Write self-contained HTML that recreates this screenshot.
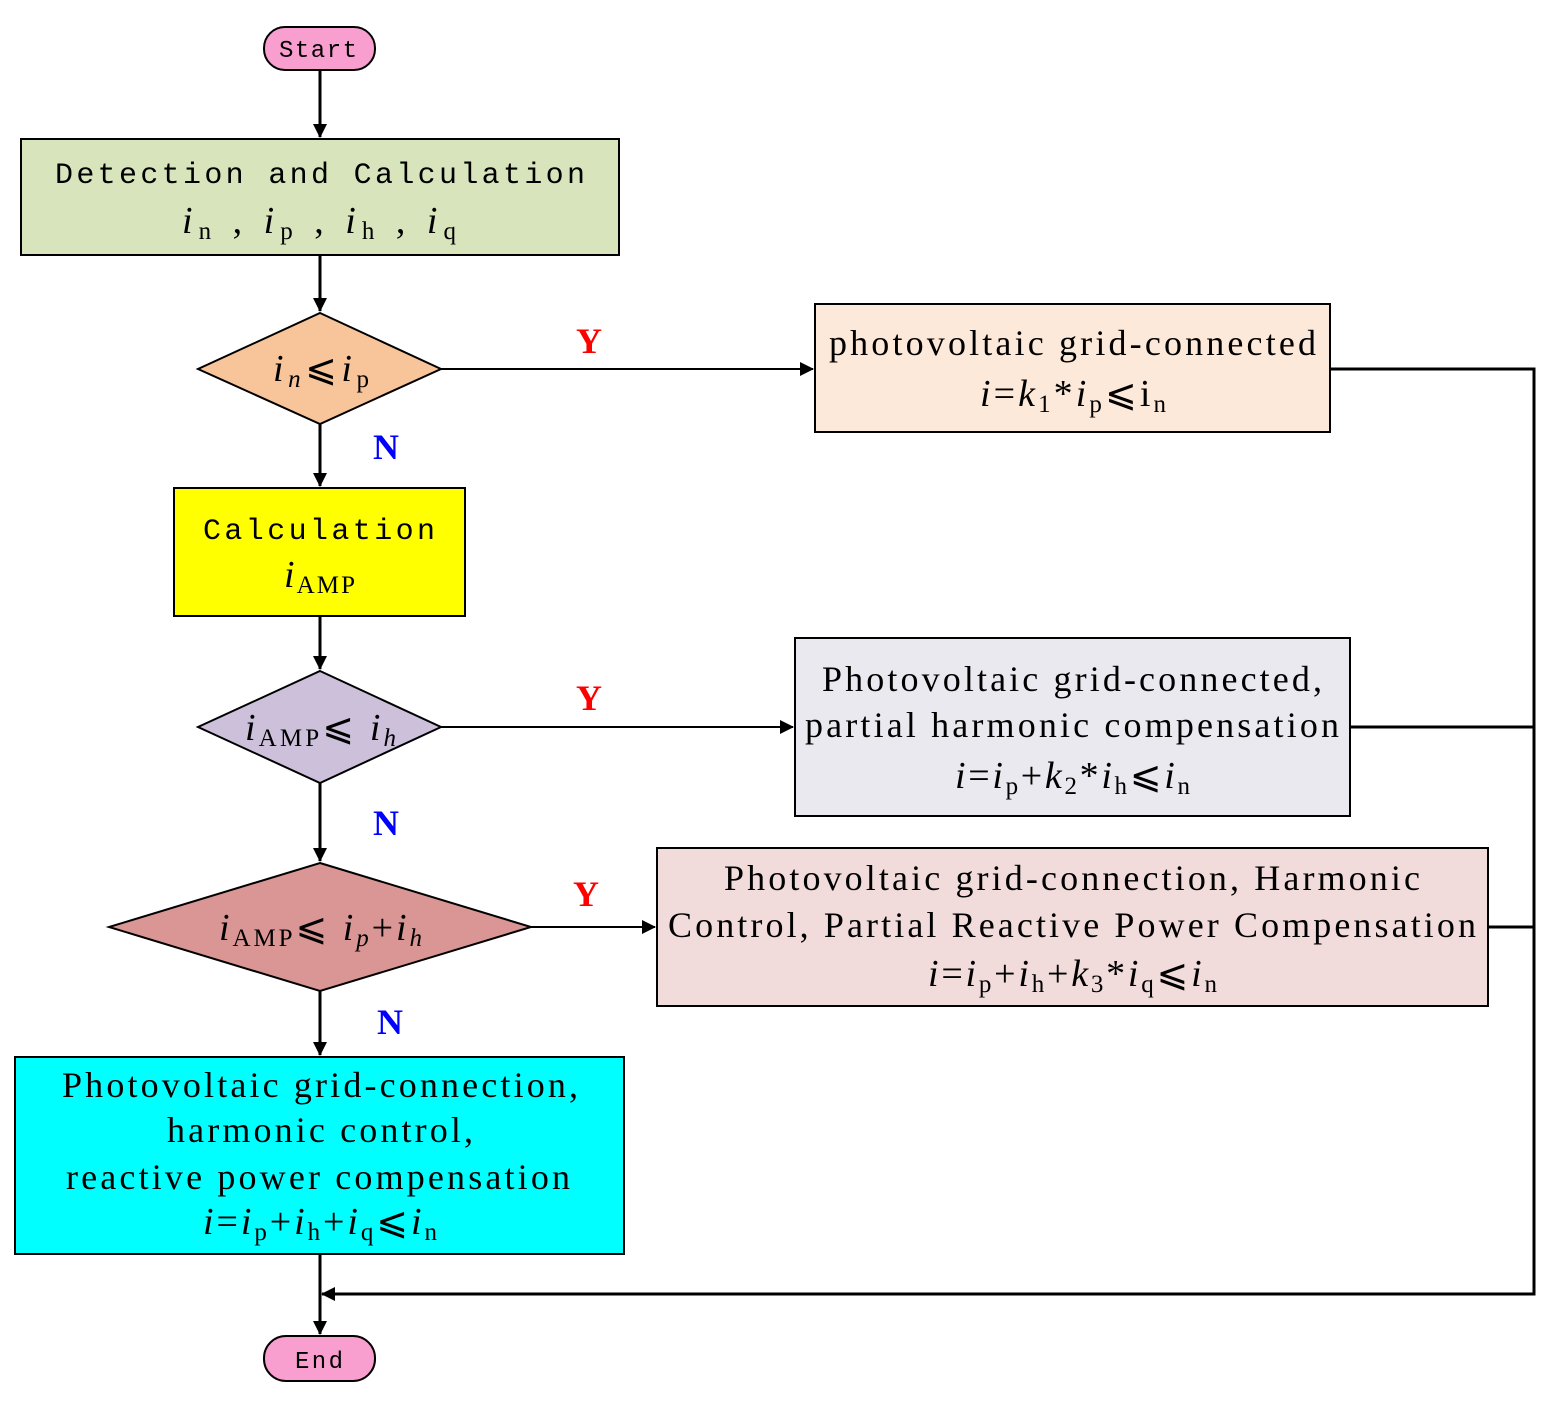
<!DOCTYPE html>
<html><head><meta charset="utf-8"><style>
html,body{margin:0;padding:0;background:#fff;}
svg{display:block;}
.s{font-family:"Liberation Serif",serif;font-size:36px;fill:#000;}
.f{font-family:"Liberation Serif",serif;font-size:38px;fill:#000;}
.m{font-family:"Liberation Mono",monospace;font-size:30px;fill:#000;}
.i{font-style:italic;}
.sub{font-size:25px;}
.yl{font-family:"Liberation Serif",serif;font-weight:bold;font-size:36px;fill:#f00;}
.nl{font-family:"Liberation Serif",serif;font-weight:bold;font-size:36px;fill:#00f;}
</style></head><body>
<svg width="1558" height="1406" viewBox="0 0 1558 1406" xmlns="http://www.w3.org/2000/svg">
<defs>
<marker id="b" markerWidth="14" markerHeight="20" refX="13" refY="7" orient="auto" markerUnits="userSpaceOnUse"><path d="M0,0 L14,7 L0,14 Z" fill="#000"/></marker></defs>
<g stroke="#000" stroke-width="2">
<rect x="264" y="27" width="111" height="43" rx="21" fill="#f99fcf"/>
<rect x="21" y="139" width="598" height="116" fill="#d8e4bc"/>
<polygon points="320,313 441,369 320,424 198,369" fill="#f8c59b"/>
<rect x="815" y="304" width="515" height="128" fill="#fde9d9"/>
<rect x="174" y="488" width="291" height="128" fill="#ffff00"/>
<polygon points="320,671 441,727 320,783 198,727" fill="#ccc0da"/>
<rect x="795" y="638" width="555" height="178" fill="#ebe9f0"/>
<polygon points="320,863 531,927 320,991 109,927" fill="#d99694"/>
<rect x="657" y="848" width="831" height="158" fill="#f2dcdb"/>
<rect x="15" y="1057" width="609" height="197" fill="#00ffff"/>
<rect x="264" y="1336" width="111" height="45" rx="22" fill="#f99fcf"/>
</g>
<g stroke="#000" stroke-width="3" fill="none">
<line x1="320" y1="70" x2="320" y2="137" marker-end="url(#b)"/>
<line x1="320" y1="255" x2="320" y2="311" marker-end="url(#b)"/>
<line x1="320" y1="424" x2="320" y2="486" marker-end="url(#b)"/>
<line x1="320" y1="616" x2="320" y2="669" marker-end="url(#b)"/>
<line x1="320" y1="783" x2="320" y2="861" marker-end="url(#b)"/>
<line x1="320" y1="991" x2="320" y2="1055" marker-end="url(#b)"/>
<line x1="320" y1="1254" x2="320" y2="1334" marker-end="url(#b)"/>
<polyline points="1330,369 1534,369 1534,1294 322,1294" marker-end="url(#b)"/>
<line x1="1350" y1="727" x2="1534" y2="727"/>
<line x1="1488" y1="927" x2="1534" y2="927"/>
</g>
<g stroke="#000" stroke-width="2">
<line x1="441" y1="369" x2="813" y2="369" marker-end="url(#b)"/>
<line x1="441" y1="727" x2="793" y2="727" marker-end="url(#b)"/>
<line x1="531" y1="927" x2="655" y2="927" marker-end="url(#b)"/>
</g>
<text class="m" x="279" y="57" textLength="78" lengthAdjust="spacing" style="font-size:24px">Start</text>
<text class="m" x="295" y="1368" textLength="48" lengthAdjust="spacing" style="font-size:24px">End</text>
<text class="m" x="55" y="183" textLength="530" lengthAdjust="spacing">Detection and Calculation</text>
<text class="f" x="182" y="233" textLength="274" lengthAdjust="spacing"><tspan class="i">i</tspan><tspan class="sub" baseline-shift="-6">n</tspan> , <tspan class="i">i</tspan><tspan class="sub" baseline-shift="-6">p</tspan> , <tspan class="i">i</tspan><tspan class="sub" baseline-shift="-6">h</tspan> , <tspan class="i">i</tspan><tspan class="sub" baseline-shift="-6">q</tspan></text>
<text class="f" x="273" y="381" textLength="96" lengthAdjust="spacing"><tspan class="i">i</tspan><tspan class="sub i" baseline-shift="-6">n</tspan>⩽<tspan class="i">i</tspan><tspan class="sub" baseline-shift="-6">p</tspan></text>
<text class="yl" x="576" y="353">Y</text>
<text class="nl" x="373" y="459">N</text>
<text class="s" x="829" y="355" textLength="487" lengthAdjust="spacing">photovoltaic grid-connected</text>
<text class="f" x="980" y="406" textLength="186" lengthAdjust="spacing"><tspan class="i">i</tspan>=<tspan class="i">k</tspan><tspan class="sub" baseline-shift="-6">1</tspan>*<tspan class="i">i</tspan><tspan class="sub" baseline-shift="-6">p</tspan>⩽i<tspan class="sub" baseline-shift="-6">n</tspan></text>
<text class="m" x="203" y="539" textLength="232" lengthAdjust="spacing">Calculation</text>
<text class="f" x="284" y="587" textLength="71" lengthAdjust="spacing"><tspan class="i">i</tspan><tspan class="sub" baseline-shift="-6">AMP</tspan></text>
<text class="f" x="245" y="740" textLength="151" lengthAdjust="spacing"><tspan class="i">i</tspan><tspan class="sub" baseline-shift="-6">AMP</tspan>⩽ <tspan class="i">i</tspan><tspan class="sub i" baseline-shift="-6">h</tspan></text>
<text class="yl" x="576" y="710">Y</text>
<text class="nl" x="373" y="835">N</text>
<text class="s" x="1072" y="691" text-anchor="middle" textLength="500" lengthAdjust="spacing">Photovoltaic grid-connected,</text>
<text class="s" x="1072" y="737" text-anchor="middle" textLength="534" lengthAdjust="spacing">partial harmonic compensation</text>
<text class="f" x="955" y="788" textLength="235" lengthAdjust="spacing"><tspan class="i">i</tspan>=<tspan class="i">i</tspan><tspan class="sub" baseline-shift="-6">p</tspan>+<tspan class="i">k</tspan><tspan class="sub" baseline-shift="-6">2</tspan>*<tspan class="i">i</tspan><tspan class="sub" baseline-shift="-6">h</tspan>⩽<tspan class="i">i</tspan><tspan class="sub" baseline-shift="-6">n</tspan></text>
<text class="f" x="219" y="940" textLength="203" lengthAdjust="spacing"><tspan class="i">i</tspan><tspan class="sub" baseline-shift="-6">AMP</tspan>⩽ <tspan class="i">i</tspan><tspan class="sub i" baseline-shift="-6">p</tspan>+<tspan class="i">i</tspan><tspan class="sub i" baseline-shift="-6">h</tspan></text>
<text class="yl" x="573" y="906">Y</text>
<text class="nl" x="377" y="1034">N</text>
<text class="s" x="1072" y="890" text-anchor="middle" textLength="696" lengthAdjust="spacing">Photovoltaic grid-connection, Harmonic</text>
<text class="s" x="1072" y="937" text-anchor="middle" textLength="808" lengthAdjust="spacing">Control, Partial Reactive Power Compensation</text>
<text class="f" x="928" y="986" textLength="289" lengthAdjust="spacing"><tspan class="i">i</tspan>=<tspan class="i">i</tspan><tspan class="sub" baseline-shift="-6">p</tspan>+<tspan class="i">i</tspan><tspan class="sub" baseline-shift="-6">h</tspan>+<tspan class="i">k</tspan><tspan class="sub" baseline-shift="-6">3</tspan>*<tspan class="i">i</tspan><tspan class="sub" baseline-shift="-6">q</tspan>⩽<tspan class="i">i</tspan><tspan class="sub" baseline-shift="-6">n</tspan></text>
<text class="s" x="320" y="1097" text-anchor="middle" textLength="516" lengthAdjust="spacing">Photovoltaic grid-connection,</text>
<text class="s" x="320" y="1142" text-anchor="middle" textLength="306" lengthAdjust="spacing">harmonic control,</text>
<text class="s" x="318" y="1189" text-anchor="middle" textLength="504" lengthAdjust="spacing">reactive power compensation</text>
<text class="f" x="203" y="1234" textLength="234" lengthAdjust="spacing"><tspan class="i">i</tspan>=<tspan class="i">i</tspan><tspan class="sub" baseline-shift="-6">p</tspan>+<tspan class="i">i</tspan><tspan class="sub" baseline-shift="-6">h</tspan>+<tspan class="i">i</tspan><tspan class="sub" baseline-shift="-6">q</tspan>⩽<tspan class="i">i</tspan><tspan class="sub" baseline-shift="-6">n</tspan></text>
</svg>
</body></html>
